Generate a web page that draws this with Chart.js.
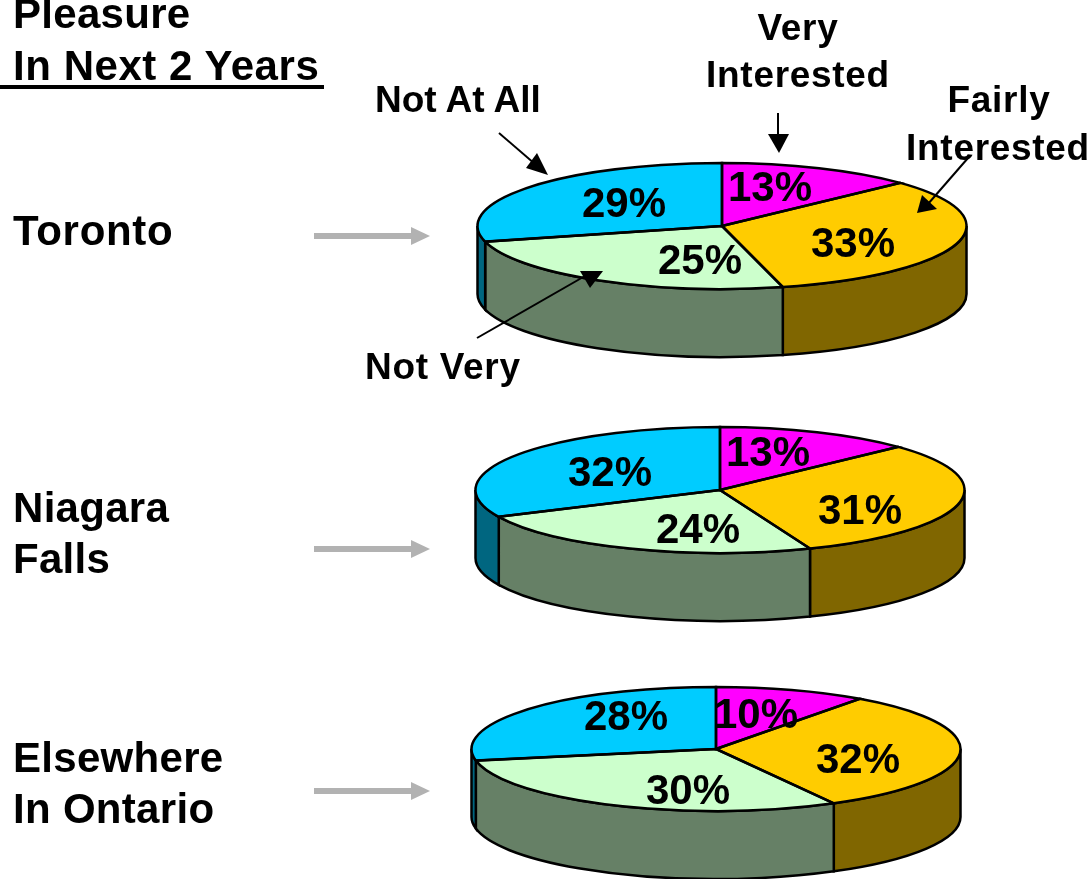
<!DOCTYPE html>
<html>
<head>
<meta charset="utf-8">
<title>Pleasure In Next 2 Years</title>
<script src="https://cdn.jsdelivr.net/npm/chart.js@4"></script>
<style>
  html, body { margin: 0; background: #fff; }
  #page { position: relative; width: 1091px; height: 879px; overflow: hidden; }
  #page canvas { position: absolute; }
  #overlay { position: absolute; left: 0; top: 0; }
  #overlay text { font-family: "Liberation Sans", Arial, sans-serif; font-weight: bold; fill: #000; }
  .big { font-size: 42px; letter-spacing: 0.3px; }
  .small { font-size: 37px; letter-spacing: 0.7px; }
</style>
</head>
<body>
<div id="page">
  <canvas id="toronto" width="500" height="500"></canvas>
  <canvas id="niagara" width="500" height="500"></canvas>
  <canvas id="elsewhere" width="500" height="500"></canvas>

  <svg id="overlay" width="1091" height="879">
    <text class="big" x="13" y="28">Pleasure</text>
    <text class="big" x="13" y="80" style="letter-spacing:0.55px">In Next 2 Years</text>
    <rect x="0" y="85" width="324" height="4" fill="#000"></rect>

    <text class="big" x="13" y="245" style="letter-spacing:0.7px">Toronto</text>
    <text class="big" x="13" y="522">Niagara</text>
    <text class="big" x="13" y="573">Falls</text>
    <text class="big" x="13" y="772">Elsewhere</text>
    <text class="big" x="13" y="823">In Ontario</text>

    <text class="small" x="375" y="112" style="letter-spacing:0">Not At All</text>
    <text class="small" x="798" y="40" text-anchor="middle">Very</text>
    <text class="small" x="798" y="87" text-anchor="middle">Interested</text>
    <text class="small" x="999" y="112" text-anchor="middle">Fairly</text>
    <text class="small" x="998" y="160" text-anchor="middle">Interested</text>
    <text class="small" x="365" y="379">Not Very</text>

    <!-- grey arrows to the pies -->
    <g fill="#b2b2b2">
      <rect x="314" y="233" width="98" height="6"></rect>
      <polygon points="411,227 430,236 411,245"></polygon>
      <rect x="314" y="546" width="98" height="6"></rect>
      <polygon points="411,540 430,549 411,558"></polygon>
      <rect x="314" y="788" width="98" height="6"></rect>
      <polygon points="411,782 430,791 411,800"></polygon>
    </g>

    <!-- pointers from the category names -->
    <g stroke="#000" stroke-width="2">
      <line x1="499" y1="133" x2="535" y2="164"></line>
      <line x1="778" y1="113" x2="778" y2="136"></line>
      <line x1="968" y1="158" x2="928" y2="204"></line>
      <line x1="477" y1="338" x2="585" y2="276"></line>
    </g>
    <g fill="#000">
      <polygon points="548,175 537,153 526,168"></polygon>
      <polygon points="779,153 768,134 789,134"></polygon>
      <polygon points="917,213 937,209 922,195"></polygon>
      <polygon points="590,288 580,271 603,271"></polygon>
    </g>
  </svg>
</div>

<script>
const categories = ["Very Interested", "Fairly Interested", "Not Very", "Not At All"];
const torontoValues = [13, 33, 25, 29];
const niagaraValues = [13, 31, 24, 32];
const elsewhereValues = [10, 32, 30, 28];
const sliceColors = ["#ff00ff", "#ffcc00", "#ccffcc", "#00ccff"];
const sideColors = ["#800080", "#806600", "#668066", "#006680"];

// where each pie sits on the page, and where its percent labels go
const pies = [
  { id: "toronto", values: torontoValues, cx: 722, cy: 226, ry: 63, depth: 68,
    spots: [[770, 189], [853, 245], [700, 262], [624, 205]] },
  { id: "niagara", values: niagaraValues, cx: 720, cy: 490, ry: 63, depth: 68,
    spots: [[768, 454], [860, 512], [698, 531], [610, 474]] },
  { id: "elsewhere", values: elsewhereValues, cx: 716, cy: 749, ry: 62, depth: 68,
    spots: [[756, 716], [858, 761], [688, 792], [626, 718]] },
];

// squashes the normal pie into an ellipse and adds the side wall
const pie3d = {
  id: "pie3d",
  beforeDatasetsDraw(chart, args, opts) {
    const ctx = chart.ctx;
    const arcs = chart.getDatasetMeta(0).data;
    ctx.lineWidth = 2.5;
    ctx.strokeStyle = "#000";
    arcs.forEach((arc, i) => {
      const from = Math.max(arc.startAngle, 0);
      const to = Math.min(arc.endAngle, Math.PI);
      if (from >= to) return;
      ctx.beginPath();
      ctx.ellipse(arc.x, arc.y, arc.outerRadius, opts.ry, 0, from, to);
      ctx.ellipse(arc.x, arc.y + opts.depth, arc.outerRadius, opts.ry, 0, to, from, true);
      ctx.closePath();
      ctx.fillStyle = sideColors[i];
      ctx.fill();
      ctx.stroke();
    });
    const first = arcs[0];
    ctx.save();
    ctx.translate(first.x, first.y);
    ctx.scale(1, opts.ry / first.outerRadius);
    ctx.translate(-first.x, -first.y);
  },
  afterDatasetsDraw(chart, args, opts) {
    const ctx = chart.ctx;
    ctx.restore();
    const arcs = chart.getDatasetMeta(0).data;
    ctx.lineWidth = 2.5;
    ctx.strokeStyle = "#000";
    arcs.forEach((arc) => {
      ctx.beginPath();
      ctx.moveTo(arc.x, arc.y);
      ctx.ellipse(arc.x, arc.y, arc.outerRadius, opts.ry, 0, arc.startAngle, arc.endAngle);
      ctx.closePath();
      ctx.stroke();
    });
    ctx.fillStyle = "#000";
    ctx.font = 'bold 42px "Liberation Sans", Arial, sans-serif';
    ctx.textAlign = "center";
    ctx.textBaseline = "middle";
    chart.data.datasets[0].data.forEach((value, i) => {
      const spot = opts.spots[i];
      // page position to canvas position
      ctx.fillText(value + "%", spot[0] - opts.cx + arcs[i].x, spot[1] - opts.cy + arcs[i].y);
    });
  },
};

function createPie(pie) {
  const canvas = document.getElementById(pie.id);
  canvas.style.left = pie.cx - 250 + "px";
  canvas.style.top = pie.cy - 250 + "px";
  new Chart(canvas, {
    type: "pie",
    data: {
      labels: categories,
      datasets: [
        {
          data: pie.values,
          backgroundColor: sliceColors,
          borderWidth: 0,
        },
      ],
    },
    options: {
      responsive: false,
      animation: false,
      layout: { padding: 5.5 },
      plugins: {
        legend: { display: false },
        tooltip: { enabled: false },
        pie3d: { ry: pie.ry, depth: pie.depth, cx: pie.cx, cy: pie.cy, spots: pie.spots },
      },
    },
    plugins: [pie3d],
  });
}

pies.forEach(createPie);
</script>
</body>
</html>
